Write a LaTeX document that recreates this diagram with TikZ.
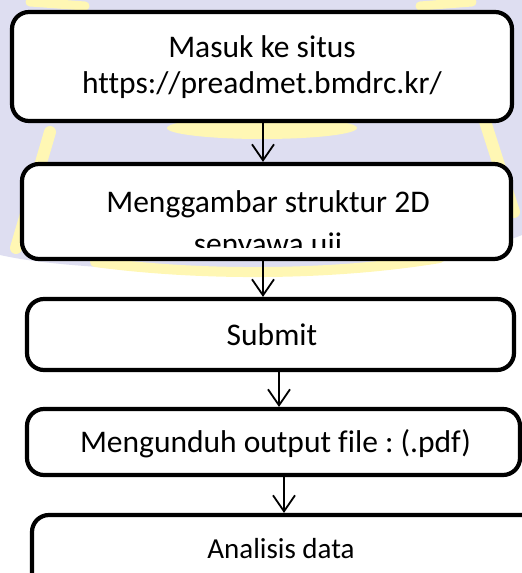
\documentclass[tikz,border=0pt]{standalone}
\usepackage{fontspec}
\setmainfont{Carlito}[Ligatures=NoCommon]
\usetikzlibrary{arrows.meta}
\definecolor{wmlav}{RGB}{222,222,241}
\definecolor{wmyel}{RGB}{255,247,180}
\frenchspacing

\begin{document}
\begin{tikzpicture}[x=1pt,y=-1pt,
  flowbox/.style={draw=black, line width=4.2pt, rounded corners=17pt, fill=white, inner sep=0pt},
  flowtext/.style={anchor=base, inner sep=0pt, font=\fontsize{31.5}{36}\selectfont},
  smalltext/.style={anchor=base, inner sep=0pt, font=\fontsize{29}{34}\selectfont},
  flowarrow/.style={line width=1.8pt, -{Straight Barb[length=16pt,width=22pt,line width=1.8pt]}}]
\useasboundingbox (0,0) rectangle (522,573);

% faint emblem in the background
\fill[wmlav] (0,0) -- (522,0) -- (522,235) .. controls (420,278) and (100,278) .. (0,255) -- cycle;
\fill[wmyel] (262,128) ellipse [x radius=95pt, y radius=11pt];
\draw[wmyel, line width=10pt, line cap=round] (95,262) .. controls (200,276) and (330,276) .. (440,258);
\draw[wmyel, line width=12pt, line cap=round] (50,132) -- (16,248);
\draw[wmyel, line width=12pt, line cap=round] (482,112) -- (514,212);
\draw[wmyel, line width=9pt, line cap=round] (30,2) -- (85,6);
\draw[wmyel, line width=9pt, line cap=round] (420,6) -- (472,2);

% process boxes
\node[flowbox, minimum width=500pt, minimum height=109pt] (b1) at (262,66.5) {};
\node[flowbox, minimum width=489pt, minimum height=95pt] (b2) at (266.5,211.5) {};
\node[flowbox, minimum width=487pt, minimum height=71pt] (b3) at (270.5,334.5) {};
\node[flowbox, minimum width=493pt, minimum height=66pt] (b4) at (273.5,442) {};
\node[flowbox, minimum width=530pt, minimum height=110pt] (b5) at (297,570) {};

% box labels
\node[flowtext] (t1a) at (262,57) {Masuk ke situs};
\node[flowtext] (t1b) at (262,93) {https://preadmet.bmdrc.kr/};
\node[flowtext] (t2a) at (268,212) {Menggambar struktur 2D};
\begin{scope}
  \clip (22,164) rectangle (511,247);
  \node[flowtext] (t2b) at (268,254) {senyawa uji};
\end{scope}
\node[flowtext] (t3) at (272,345) {Submit};
\node[flowtext] (t4) at (275.5,452) {Mengunduh output file : (.pdf)};
\node[smalltext] (t5) at (281,558) {Analisis data};

% connectors
\coordinate (x1) at (263,0);
\coordinate (x2) at (263,0);
\coordinate (x3) at (279,0);
\coordinate (x4) at (284,0);
\draw[flowarrow] (b1.south -| x1) -- (b2.north -| x1);
\draw[flowarrow] (b2.south -| x2) -- (b3.north -| x2);
\draw[flowarrow] (b3.south -| x3) -- (b4.north -| x3);
\draw[flowarrow] (b4.south -| x4) -- (b5.north -| x4);
\end{tikzpicture}
\end{document}
